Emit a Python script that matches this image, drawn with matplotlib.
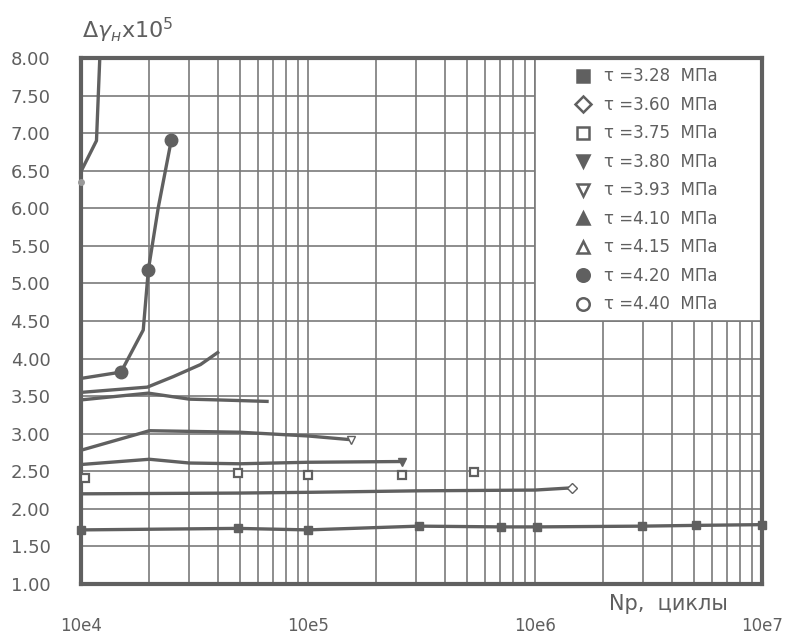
import matplotlib
matplotlib.use("Agg")
import matplotlib.pyplot as plt
from matplotlib.lines import Line2D
from matplotlib.patches import Rectangle
from matplotlib.ticker import FixedLocator, NullFormatter, LogLocator

# ---- data ----
x_328 = [1.0e4, 4.9e4, 1.0e5, 3.07e5, 7.1e5, 1.02e6, 2.97e6, 5.1e6, 1.0e7]
y_328 = [1.72, 1.74, 1.72, 1.77, 1.76, 1.76, 1.77, 1.78, 1.79]

x_360 = [1.0e4, 4.9e4, 1.0e5, 3.07e5, 1.0e6, 1.46e6]
y_360 = [2.20, 2.21, 2.22, 2.24, 2.25, 2.28]

x_375 = [1.04e4, 4.9e4, 1.0e5, 2.6e5, 5.4e5]
y_375 = [2.41, 2.48, 2.45, 2.45, 2.49]

x_380 = [1.0e4, 2.0e4, 3.0e4, 5.0e4, 1.0e5, 2.6e5]
y_380 = [2.59, 2.66, 2.61, 2.60, 2.62, 2.63]

x_393 = [1.0e4, 1.85e4, 2.0e4, 5.0e4, 1.0e5, 1.55e5]
y_393 = [2.78, 3.01, 3.04, 3.02, 2.97, 2.92]

x_410 = [1.0e4, 1.98e4, 3.0e4, 4.0e4, 6.6e4]
y_410 = [3.45, 3.54, 3.46, 3.45, 3.43]

x_415 = [1.0e4, 1.96e4, 2.55e4, 3.36e4, 4.0e4]
y_415 = [3.55, 3.62, 3.76, 3.92, 4.08]

x_420 = [1.02e4, 1.5e4, 1.88e4, 1.98e4, 2.19e4, 2.5e4]
y_420 = [3.74, 3.82, 4.38, 5.18, 6.01, 6.91]

x_440 = [1.0e4, 1.0e4, 1.17e4, 1.21e4]
y_440 = [6.35, 6.49, 6.90, 8.00]

labels = ["τ =3.28  МПа", "τ =3.60  МПа", "τ =3.75  МПа", "τ =3.80  МПа",
          "τ =3.93  МПа", "τ =4.10  МПа", "τ =4.15  МПа", "τ =4.20  МПа",
          "τ =4.40  МПа"]
y_ticks = [1.0, 1.5, 2.0, 2.5, 3.0, 3.5, 4.0, 4.5, 5.0, 5.5, 6.0, 6.5, 7.0, 7.5, 8.0]
x_ticks = [1e4, 1e5, 1e6, 1e7]
x_tick_labels = ["10e4", "10e5", "10e6", "10e7"]

# ---- style ----
INK = "#5f5f5f"
GRID = "#7a7a7a"
LINE = "#606060"

fig = plt.figure(figsize=(7.85, 6.41), dpi=100)
ax = fig.add_axes([81/785, 1-584/641, (762-81)/785, (584-58)/641])
ax.set_xscale("log")
ax.set_xlim(1e4, 1e7)
ax.set_ylim(1.0, 8.0)

ax.xaxis.set_major_locator(FixedLocator(x_ticks))
ax.xaxis.set_minor_locator(LogLocator(base=10, subs=range(2, 10)))
ax.xaxis.set_minor_formatter(NullFormatter())
ax.set_xticks(x_ticks)
ax.set_xticklabels(x_tick_labels)
ax.set_yticks(y_ticks)
ax.set_yticklabels([f"{v:.2f}" for v in y_ticks])

ax.tick_params(axis="both", which="both", length=0, colors=INK)
ax.tick_params(axis="y", labelsize=13, pad=22)
ax.tick_params(axis="x", labelsize=12, pad=24)

ax.set_axisbelow(True)
ax.grid(True, which="both", axis="x", color=GRID, lw=1.2)
ax.grid(True, which="major", axis="y", color=GRID, lw=1.2)
for s in ax.spines.values():
    s.set_color(LINE)
    s.set_linewidth(3)

# legend box area (white, covering grid)
ax.add_patch(Rectangle((1e6, 4.5), 9e6, 3.5, facecolor="white",
                       edgecolor=GRID, lw=1.2, zorder=1))

lw = 2.4
ms = 6
ax.plot(x_328, y_328, color=LINE, lw=lw, marker="s", ms=ms, mfc=LINE, mec=LINE, clip_on=False, zorder=3)
ax.plot(x_360, y_360, color=LINE, lw=lw, marker="D", ms=5, mfc="white", mec=LINE, markevery=[len(x_360)-1], clip_on=False, zorder=3)
ax.plot(x_375, y_375, color=LINE, lw=0, marker="s", ms=ms, mfc="white", mec=LINE, mew=1.6, clip_on=False, zorder=3)
ax.plot(x_380, y_380, color=LINE, lw=lw, marker="v", ms=ms, mfc=LINE, mec=LINE, markevery=[len(x_380)-1], clip_on=False, zorder=3)
ax.plot(x_393, y_393, color=LINE, lw=lw, marker="v", ms=ms, mfc="white", mec=LINE, markevery=[len(x_393)-1], clip_on=False, zorder=3)
ax.plot(x_410, y_410, color=LINE, lw=lw, clip_on=False, zorder=3)
ax.plot(x_415, y_415, color=LINE, lw=lw, clip_on=False, zorder=3)
ax.plot(x_420, y_420, color=LINE, lw=lw, marker="o", ms=9, mfc=LINE, mec=LINE, markevery=[1, 3, 5], clip_on=False, zorder=3)
ax.plot(x_440, y_440, color=LINE, lw=lw, marker="o", ms=4, mfc="#999999", mec="#999999", markevery=[0], clip_on=False, zorder=3)

# legend (marker-only handles)
specs = [("s", LINE), ("D", "white"), ("s", "white"), ("v", LINE), ("v", "white"),
         ("^", LINE), ("^", "white"), ("o", LINE), ("o", "white")]
handles = [Line2D([], [], ls="None", marker=m, ms=9 if m != "D" else 8, mfc=fc, mec=LINE, mew=1.8)
           for m, fc in specs]
leg = fig.legend(handles, labels, loc="upper left", bbox_to_anchor=(566/785, 1-59/641),
                 frameon=False, fontsize=12, labelspacing=0.63, handletextpad=0.75,
                 handlelength=1.0, borderpad=0)
for t in leg.get_texts():
    t.set_color(INK)

fig.text(82/785, 1-30/641, r"$\Delta\gamma_{н}$x10$^5$", fontsize=16, color=INK,
         ha="left", va="center")
fig.text(668/785, 1-604/641, "Np,  циклы", fontsize=15, color=INK, ha="center", va="center")

fig.savefig("out.png", dpi=100)
